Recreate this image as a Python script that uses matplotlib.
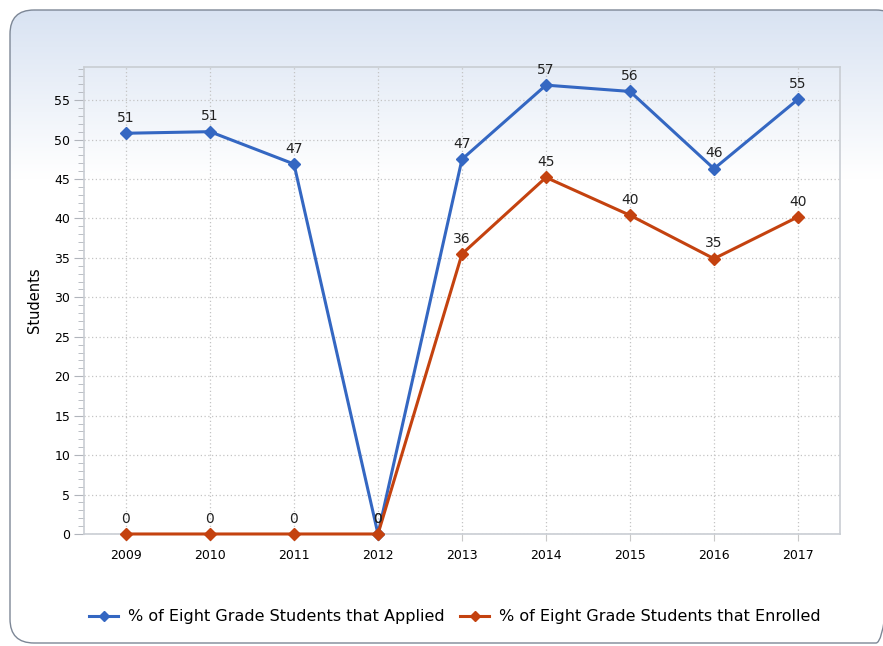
import matplotlib.pyplot as plt
import numpy as np
from matplotlib.patches import FancyBboxPatch
from matplotlib.ticker import MultipleLocator

plt.rcParams["font.family"] = ["DejaVu Sans"]

years = [2009, 2010, 2011, 2012, 2013, 2014, 2015, 2016, 2017]
applied = [50.8, 51.0, 46.9, 0.0, 47.5, 56.9, 56.1, 46.3, 55.1]
enrolled = [0.0, 0.0, 0.0, 0.0, 35.5, 45.2, 40.4, 34.9, 40.2]
applied_lbl = ["51", "51", "47", "0", "47", "57", "56", "46", "55"]
enrolled_lbl = ["0", "0", "0", "0", "36", "45", "40", "35", "40"]

BLUE = "#3467c2"
ORANGE = "#c4420f"

fig = plt.figure(figsize=(8.83, 6.46), dpi=100)

# background panel: rounded box with a light blue -> white gradient
bg = fig.add_axes([0, 0, 1, 1], zorder=-10)
bg.set_xlim(0, 883)
bg.set_ylim(646, 0)
bg.set_axis_off()
panel = FancyBboxPatch((10, 10), 890, 633, boxstyle="round,pad=0,rounding_size=24",
                       facecolor="none", edgecolor="#7d8796", linewidth=1.0)
bg.add_patch(panel)
grad = np.linspace(0, 1, 256).reshape(-1, 1)
grad = np.clip(grad * 3.8, 0, 1)
top = np.array([0.85, 0.89, 0.95])
rgb = top + (np.array([1.0, 1.0, 1.0]) - top) * grad[..., None]
im = bg.imshow(rgb, extent=(10, 900, 643, 10), aspect="auto")
im.set_clip_path(panel)

ax = fig.add_axes([0.0951, 0.1734, 0.8562, 0.7229])
ax.set_facecolor("none")

ax.plot(years, applied, color=BLUE, lw=2.2, marker="D", ms=6.5, zorder=3,
        clip_on=False, label="% of Eight Grade Students that Applied")
ax.plot(years, enrolled, color=ORANGE, lw=2.2, marker="D", ms=6.5, zorder=3,
        clip_on=False, label="% of Eight Grade Students that Enrolled")

for x, y, t in zip(years, applied, applied_lbl):
    ax.annotate(t, (x, y), xytext=(0, 6), textcoords="offset points",
                ha="center", va="bottom", fontsize=10, color="#222222", zorder=4)
for x, y, t in zip(years, enrolled, enrolled_lbl):
    ax.annotate(t, (x, y), xytext=(0, 6), textcoords="offset points",
                ha="center", va="bottom", fontsize=10, color="#222222", zorder=4)

ax.set_xlim(2008.5, 2017.5)
ax.set_ylim(0, 59.2)
ax.set_xticks(years)
ax.set_xticklabels([str(y) for y in years])
ax.yaxis.set_major_locator(MultipleLocator(5))
ax.yaxis.set_minor_locator(MultipleLocator(1))
ax.grid(True, which="major", color="#c4c4c4", linestyle=(0, (1, 2)), linewidth=0.9)

ax.tick_params(axis="x", length=5, color="#c8c8c8", labelsize=9, pad=6)
ax.tick_params(axis="y", which="major", length=7, color="#b0b4bb", labelsize=9, pad=3)
ax.tick_params(axis="y", which="minor", length=4, color="#b0b4bb")
for s in ax.spines.values():
    s.set_color("#c9cdd3")
    s.set_linewidth(1.2)

ax.set_ylabel("Students", fontsize=10.5, labelpad=9)

fig.legend(loc="center", bbox_to_anchor=(0.515, 0.045), ncol=2, frameon=False,
           fontsize=11.5, columnspacing=1.0, handlelength=1.8, handletextpad=0.6,
           markerscale=0.75)

fig.savefig("out.png", dpi=100)
